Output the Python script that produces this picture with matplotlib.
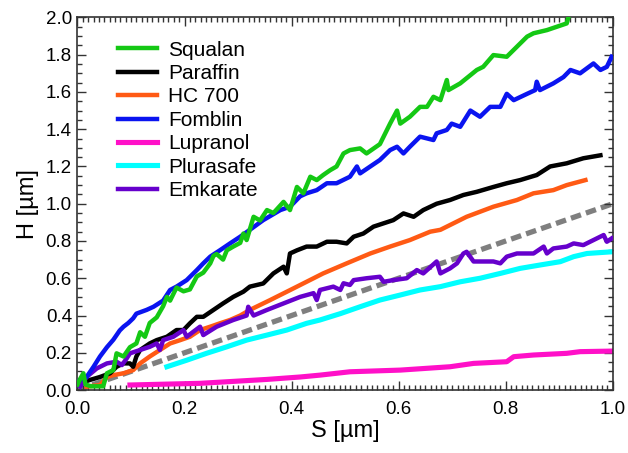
import matplotlib
matplotlib.use("Agg")
import matplotlib.pyplot as plt
from matplotlib.ticker import MultipleLocator

plt.rcParams['font.family'] = ['Liberation Sans', 'DejaVu Sans']

# Squalan
squalan_s = [0.0, 0.005, 0.011, 0.015, 0.025, 0.048, 0.055, 0.067, 0.073, 0.086, 0.098, 0.11, 0.117, 0.126,
             0.135, 0.148, 0.16, 0.167, 0.173, 0.185, 0.198, 0.21, 0.223, 0.235, 0.248, 0.254, 0.26, 0.272,
             0.279, 0.291, 0.304, 0.31, 0.316, 0.329, 0.341, 0.354, 0.366, 0.385, 0.397, 0.41, 0.422, 0.435,
             0.447, 0.459, 0.472, 0.484, 0.497, 0.509, 0.528, 0.54, 0.565, 0.584, 0.597, 0.603, 0.621, 0.64,
             0.653, 0.665, 0.678, 0.69, 0.693, 0.715, 0.746, 0.758, 0.777, 0.802, 0.84, 0.852, 0.877, 0.914, 0.92]
squalan_h = [0.03, 0.06, 0.09, 0.03, 0.02, 0.02, 0.09, 0.107, 0.197, 0.18, 0.23, 0.25, 0.31, 0.286,
             0.36, 0.39, 0.45, 0.5, 0.48, 0.55, 0.53, 0.54, 0.61, 0.63, 0.68, 0.72, 0.73, 0.70,
             0.75, 0.77, 0.79, 0.84, 0.805, 0.93, 0.91, 0.966, 0.95, 1.01, 0.966, 1.09, 1.056, 1.145,
             1.127, 1.154, 1.18, 1.2, 1.27, 1.288, 1.297, 1.27, 1.32, 1.43, 1.5, 1.43, 1.467, 1.52,
             1.52, 1.574, 1.556, 1.664, 1.61, 1.646, 1.718, 1.735, 1.798, 1.789, 1.897, 1.915, 1.932, 1.968, 2.03]

# Paraffin
paraffin_s = [0.005, 0.023, 0.042, 0.061, 0.073, 0.086, 0.098, 0.104, 0.11, 0.117, 0.135, 0.148, 0.167,
              0.185, 0.198, 0.21, 0.223, 0.235, 0.254, 0.272, 0.291, 0.31, 0.322, 0.347, 0.366, 0.385,
              0.391, 0.397, 0.41, 0.428, 0.447, 0.466, 0.484, 0.503, 0.516, 0.534, 0.553, 0.572, 0.59,
              0.609, 0.628, 0.646, 0.671, 0.696, 0.721, 0.746, 0.777, 0.802, 0.827, 0.858, 0.883, 0.914,
              0.945, 0.977]
paraffin_h = [0.036, 0.054, 0.07, 0.09, 0.125, 0.143, 0.143, 0.125, 0.18, 0.215, 0.25, 0.268, 0.286,
              0.322, 0.322, 0.358, 0.393, 0.393, 0.43, 0.465, 0.5, 0.528, 0.555, 0.572, 0.626, 0.662,
              0.626, 0.733, 0.75, 0.77, 0.77, 0.796, 0.796, 0.787, 0.823, 0.84, 0.877, 0.895, 0.912,
              0.948, 0.93, 0.966, 1.0, 1.02, 1.047, 1.064, 1.09, 1.11, 1.127, 1.154, 1.2, 1.217,
              1.244, 1.26]

# HC 700
hc700_s = [0.017, 0.042, 0.055, 0.067, 0.086, 0.104, 0.117, 0.135, 0.154, 0.173, 0.192, 0.21, 0.229,
           0.248, 0.266, 0.285, 0.304, 0.322, 0.36, 0.41, 0.459, 0.503, 0.547, 0.584, 0.621, 0.659,
           0.678, 0.727, 0.777, 0.821, 0.852, 0.889, 0.914, 0.949]
hc700_h = [0.018, 0.027, 0.07, 0.08, 0.09, 0.107, 0.143, 0.18, 0.215, 0.25, 0.268, 0.286, 0.322,
           0.34, 0.358, 0.376, 0.4, 0.43, 0.483, 0.555, 0.626, 0.68, 0.733, 0.77, 0.805, 0.85,
           0.86, 0.93, 0.984, 1.02, 1.056, 1.073, 1.1, 1.127]

# Fomblin
fomblin_s = [0.005, 0.017, 0.03, 0.042, 0.055, 0.067, 0.079, 0.086, 0.095, 0.104, 0.11, 0.129, 0.142,
             0.16, 0.173, 0.185, 0.204, 0.223, 0.235, 0.248, 0.266, 0.285, 0.304, 0.322, 0.347, 0.379,
             0.397, 0.416, 0.428, 0.447, 0.466, 0.484, 0.509, 0.522, 0.528, 0.547, 0.565, 0.584, 0.597,
             0.609, 0.621, 0.64, 0.665, 0.671, 0.69, 0.699, 0.715, 0.734, 0.752, 0.771, 0.79, 0.802,
             0.815, 0.84, 0.855, 0.858, 0.864, 0.889, 0.908, 0.921, 0.939, 0.964, 0.977, 0.989, 0.998]
fomblin_h = [0.054, 0.07, 0.125, 0.18, 0.23, 0.27, 0.32, 0.34, 0.36, 0.385, 0.41, 0.43, 0.447,
             0.48, 0.537, 0.555, 0.59, 0.644, 0.68, 0.716, 0.75, 0.787, 0.823, 0.86, 0.912, 0.966,
             0.984, 1.04, 1.056, 1.073, 1.11, 1.11, 1.145, 1.2, 1.163, 1.2, 1.235, 1.288, 1.306,
             1.27, 1.306, 1.36, 1.342, 1.378, 1.396, 1.43, 1.413, 1.5, 1.467, 1.52, 1.52, 1.59,
             1.556, 1.59, 1.61, 1.655, 1.61, 1.646, 1.68, 1.718, 1.7, 1.753, 1.718, 1.735, 1.789]

# Lupranol
lupranol_s = [0.098, 0.229, 0.354, 0.416, 0.453, 0.509, 0.603, 0.696, 0.74, 0.802, 0.815, 0.852, 0.914,
              0.939, 0.998]
lupranol_h = [0.027, 0.036, 0.057, 0.07, 0.08, 0.098, 0.107, 0.125, 0.143, 0.152, 0.179, 0.188, 0.197,
              0.206, 0.209]

# Plurasafe
plurasafe_s = [0.167, 0.204, 0.241, 0.279, 0.316, 0.354, 0.391, 0.428, 0.453, 0.491, 0.528, 0.565,
               0.603, 0.64, 0.678, 0.715, 0.752, 0.79, 0.827, 0.864, 0.902, 0.927, 0.952, 0.998]
plurasafe_h = [0.125, 0.16, 0.197, 0.232, 0.268, 0.295, 0.322, 0.358, 0.376, 0.41, 0.447, 0.483,
               0.51, 0.537, 0.555, 0.581, 0.6, 0.626, 0.653, 0.671, 0.689, 0.716, 0.733, 0.742]

# Emkarate
emkarate_s = [0.005, 0.017, 0.036, 0.055, 0.073, 0.083, 0.092, 0.098, 0.117, 0.135, 0.148, 0.154, 0.16,
              0.179, 0.198, 0.204, 0.229, 0.235, 0.26, 0.291, 0.316, 0.319, 0.329, 0.354, 0.385, 0.416,
              0.441, 0.447, 0.453, 0.478, 0.491, 0.497, 0.509, 0.516, 0.54, 0.565, 0.572, 0.59, 0.615,
              0.634, 0.646, 0.671, 0.678, 0.696, 0.709, 0.721, 0.727, 0.74, 0.758, 0.777, 0.79, 0.802,
              0.821, 0.852, 0.871, 0.877, 0.889, 0.914, 0.927, 0.945, 0.964, 0.983, 0.989, 0.998]
emkarate_h = [0.018, 0.07, 0.116, 0.143, 0.152, 0.134, 0.17, 0.197, 0.215, 0.232, 0.25, 0.215, 0.268,
              0.286, 0.322, 0.286, 0.34, 0.295, 0.34, 0.376, 0.4, 0.447, 0.4, 0.43, 0.465, 0.5,
              0.52, 0.483, 0.537, 0.555, 0.537, 0.573, 0.564, 0.59, 0.6, 0.608, 0.581, 0.59, 0.6,
              0.644, 0.626, 0.69, 0.626, 0.653, 0.68, 0.733, 0.742, 0.69, 0.69, 0.69, 0.68, 0.716,
              0.733, 0.733, 0.77, 0.733, 0.76, 0.77, 0.787, 0.778, 0.805, 0.832, 0.796, 0.814]

# reference line H = S
ref_s = [0.0, 1.0]
ref_h = [0.0, 1.0]

fig = plt.figure(figsize=(6.28, 4.53), dpi=100)
ax = fig.add_axes([0.1234, 0.139, 0.8523, 0.8225])

lw = 3.2
ax.plot(ref_s, ref_h, color='#7f7f7f', lw=3.8, linestyle=(0, (2.0, 1.0)), zorder=1)
ax.plot(lupranol_s, lupranol_h, color='#ff10c8', lw=lw + 0.5, label='Lupranol', zorder=2)
ax.plot(plurasafe_s, plurasafe_h, color='#00ffff', lw=lw + 0.5, label='Plurasafe', zorder=2)
ax.plot(hc700_s, hc700_h, color='#ff5a14', lw=lw, label='HC 700', zorder=3)
ax.plot(emkarate_s, emkarate_h, color='#6600cc', lw=lw, label='Emkarate', zorder=4)
ax.plot(paraffin_s, paraffin_h, color='black', lw=lw, label='Paraffin', zorder=3)
ax.plot(fomblin_s, fomblin_h, color='#0a14f0', lw=lw, label='Fomblin', zorder=4)
ax.plot(squalan_s, squalan_h, color='#14c814', lw=lw, label='Squalan', zorder=5)

ax.set_xlim(0, 1.0)
ax.set_ylim(0, 2.0)
ax.xaxis.set_major_locator(MultipleLocator(0.2))
ax.xaxis.set_minor_locator(MultipleLocator(0.01))
ax.yaxis.set_major_locator(MultipleLocator(0.2))
ax.yaxis.set_minor_locator(MultipleLocator(0.05))
ax.tick_params(which='both', direction='in', top=True, right=True, width=1.0, color='#333333')
ax.tick_params(which='major', length=6.5, labelsize=13.5)
ax.tick_params(which='minor', length=3.5)
ax.tick_params(axis='x', pad=8)
ax.tick_params(axis='y', pad=4)
ax.xaxis.set_major_formatter(plt.FuncFormatter(lambda v, p: f"{v:.1f}"))
ax.yaxis.set_major_formatter(plt.FuncFormatter(lambda v, p: f"{v:.1f}"))
for sp in ax.spines.values():
    sp.set_linewidth(1.2)
    sp.set_color('#333333')

ax.set_xlabel('S [µm]', fontsize=17, labelpad=1)
ax.set_ylabel('H [µm]', fontsize=17, labelpad=5)

order = ['Squalan', 'Paraffin', 'HC 700', 'Fomblin', 'Lupranol', 'Plurasafe', 'Emkarate']
handles, labels = ax.get_legend_handles_labels()
lookup = dict(zip(labels, handles))
ax.legend([lookup[k] for k in order], order, loc='upper left', bbox_to_anchor=(0.061, 0.96),
          frameon=False, fontsize=15, handlelength=1.85, handletextpad=0.55,
          labelspacing=0.21, borderaxespad=0.0)

fig.savefig('out.png', dpi=100)
